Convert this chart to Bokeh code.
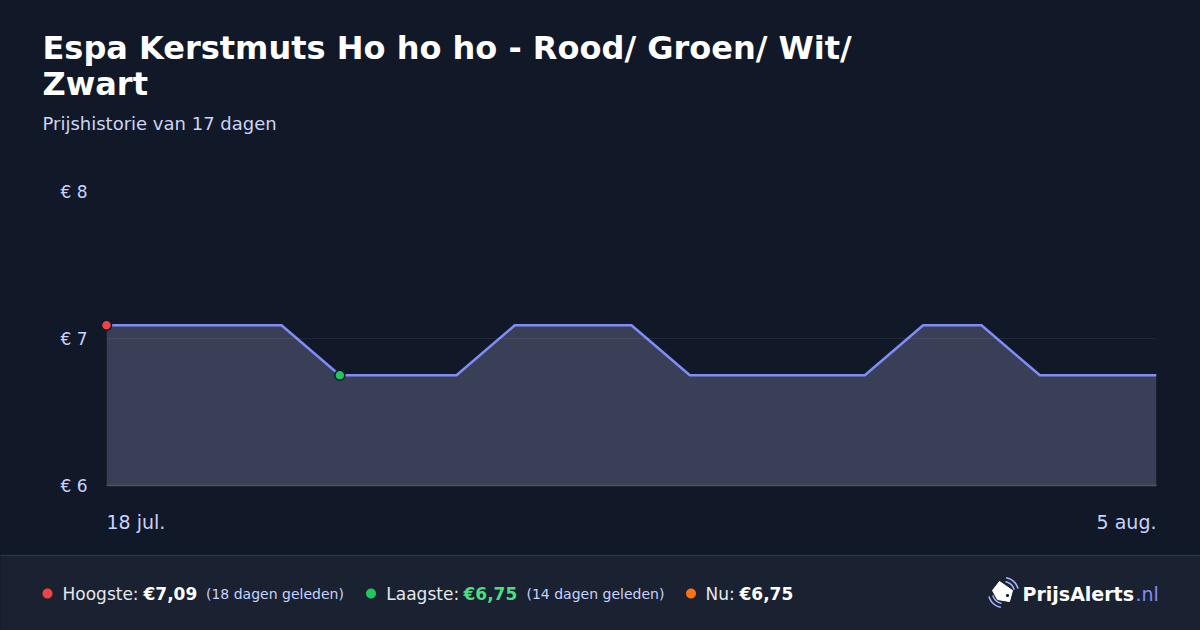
import numpy as np
from bokeh.plotting import figure
from bokeh.models import Range1d, FixedTicker
from bokeh.embed import file_html
from bokeh.resources import INLINE
from bokeh.core.properties import value

# ---------------- data ----------------
title_lines = ["Espa Kerstmuts Ho ho ho - Rood/ Groen/ Wit/", "Zwart"]
subtitle = "Prijshistorie van 17 dagen"
dates = ["18 jul.", "19 jul.", "20 jul.", "21 jul.", "22 jul.", "23 jul.", "24 jul.",
         "25 jul.", "26 jul.", "27 jul.", "28 jul.", "29 jul.", "30 jul.", "31 jul.",
         "1 aug.", "2 aug.", "3 aug.", "4 aug.", "5 aug."]
day_index = list(range(len(dates)))
prices = [7.09, 7.09, 7.09, 7.09, 6.75, 6.75, 6.75, 7.09, 7.09, 7.09,
          6.75, 6.75, 6.75, 6.75, 7.09, 7.09, 6.75, 6.75, 6.75]
y_ticks = [6, 7, 8]
y_tick_labels = ["€ 6", "€ 7", "€ 8"]
x_label_days = [0, len(dates) - 1]

# ---------------- style ----------------
FONT = "DejaVu Sans"
BG = "#111827"
FOOT_BG = "#1a2131"
LINE = "#818cf8"
FILL = "#3a3f58"
LBL = "#c7d2fe"
RED = "#ef4444"
GREEN = "#22c55e"
ORANGE = "#f97316"
W, H = 1200, 630
FL, FR, FT, FB = 106, 1156, 191, 485   # frame edges on the canvas


def euro(v):
    return "€" + f"{v:.2f}".replace(".", ",")


def disc(cx, cy, rad, n=40):
    th = np.linspace(0, 2 * np.pi, n, endpoint=False)
    return list(cx + rad * np.cos(th)), list(cy + rad * np.sin(th))


p = figure(width=W, height=H, x_range=Range1d(day_index[0], day_index[-1]),
           y_range=Range1d(y_ticks[0], y_ticks[-1]),
           output_backend="svg", toolbar_location=None,
           min_border_left=FL, min_border_right=W - FR, min_border_top=FT, min_border_bottom=H - FB)
p.background_fill_color = BG
p.border_fill_color = BG
p.outline_line_color = None
# canvas-pixel ranges for the page texts around the chart
p.extra_x_ranges = {"px": Range1d(FL, FR)}
p.extra_y_ranges = {"py": Range1d(FB, FT)}
PX = dict(x_range_name="px", y_range_name="py")

p.yaxis.ticker = FixedTicker(ticks=y_ticks)
p.yaxis.major_label_overrides = {t: l for t, l in zip(y_ticks, y_tick_labels)}
p.yaxis.axis_line_color = None
p.yaxis.major_tick_line_color = None
p.yaxis.minor_tick_line_color = None
p.yaxis.major_tick_out = 0
p.yaxis.major_tick_in = 0
p.yaxis.major_label_standoff = 19
p.yaxis.major_label_text_font = FONT
p.yaxis.major_label_text_font_size = "17px"
p.yaxis.major_label_text_color = LBL

p.xaxis.ticker = FixedTicker(ticks=[])
p.xaxis.major_tick_line_color = None
p.xaxis.minor_tick_line_color = None
p.xaxis.major_label_text_font_size = "0px"
p.xaxis.axis_line_color = "#4b5563"
p.xaxis.axis_line_width = 1.5

p.xgrid.visible = False
p.ygrid.grid_line_color = "#ffffff"
p.ygrid.grid_line_alpha = 0.07
p.ygrid.level = "overlay"

p.varea(x=day_index, y1=y_ticks[0], y2=prices, fill_color=FILL)
p.line(day_index, prices, line_color=LINE, line_width=2.5)

i_max = prices.index(max(prices))
i_min = prices.index(min(prices))
pts = p.scatter(x=[day_index[i_max], day_index[i_min]], y=[prices[i_max], prices[i_min]],
                size=10, fill_color=[RED, GREEN], line_color=BG, line_width=1.5)
pts.level = "overlay"

# x labels (first and last day)
for d, align in zip(x_label_days, ["left", "right"]):
    r = p.text(x=[day_index[d]], y=[y_ticks[0]], text=[dates[d]], y_offset=36,
               text_align=align, text_baseline="middle", text_font=value(FONT),
               text_font_size="19px", text_color=LBL)
    r.level = "overlay"

# ---------------- header ----------------
r = p.text(x=[42, 42], y=[47, 83], text=title_lines, text_font=value(FONT),
           text_font_style="bold", text_font_size="32px", text_color="#ffffff",
           text_baseline="middle", **PX)
r.level = "overlay"
r = p.text(x=[42], y=[123], text=[subtitle], text_font=value(FONT),
           text_font_size="18px", text_color="#cbd5f5", text_baseline="middle", **PX)
r.level = "overlay"

# ---------------- footer ----------------
r = p.quad(left=[0], right=[W], top=[555], bottom=[H], fill_color=FOOT_BG, line_color=None, **PX)
r.level = "overlay"
r = p.segment(x0=[0], x1=[W], y0=[555], y1=[555], line_color="#2a3352", line_width=1.5, **PX)
r.level = "overlay"

cy = 593
for cx, col in zip((47, 370.5, 690.5), (RED, GREEN, ORANGE)):
    dx, dy = disc(cx, cy, 5)
    r = p.patch(dx, dy, fill_color=col, line_color=None, **PX)
    r.level = "overlay"

last = len(prices) - 1
pieces = [
    (62, "Hoogste:", "normal", "17px", "#e5e7eb"),
    (143, euro(max(prices)), "bold", "17px", "#ffffff"),
    (205.5, f"({last - i_max} dagen geleden)", "normal", "14px", LBL),
    (385.8, "Laagste:", "normal", "17px", "#e5e7eb"),
    (463, euro(min(prices)), "bold", "17px", "#4ade80"),
    (526, f"({last - i_min} dagen geleden)", "normal", "14px", LBL),
    (705, "Nu:", "normal", "17px", "#e5e7eb"),
    (739, euro(prices[-1]), "bold", "17px", "#ffffff"),
    (1022, "PrijsAlerts", "bold", "19px", "#ffffff"),
    (1135, ".nl", "normal", "19px", LINE),
]
for x, t, style, size, color in pieces:
    r = p.text(x=[x], y=[cy], text=[t], text_font=value(FONT), text_font_style=style,
               text_font_size=size, text_color=color, text_baseline="middle", **PX)
    r.level = "overlay"

# logo icon: tag + signal arcs
icx, icy = 1003, 592
tag_x = [icx - 11, icx - 4, icx + 9, icx + 6, icx - 6]
tag_y = [icy - 2, icy - 11, icy - 2, icy + 9, icy + 7]
r = p.patch(tag_x, tag_y, fill_color="#ffffff", line_color="#ffffff", line_width=1,
            line_join="round", **PX)
r.level = "overlay"
hx, hy = disc(icx + 4, icy + 3, 1.6, 16)
r = p.patch(hx, hy, fill_color=FOOT_BG, line_color=None, **PX)
r.level = "overlay"
for rad in (11, 15):
    for a0, a1 in ((15, 80), (195, 260)):
        th = np.radians(np.linspace(a0, a1, 20))
        r = p.line(icx + rad * np.cos(th), icy - rad * np.sin(th), line_color="#a5b4fc",
                   line_width=1.6, **PX)
        r.level = "overlay"

html = file_html(p, INLINE)
html = html.replace("<head>", "<head><style>html,body{margin:0;padding:0;background:#111827;overflow:hidden}</style>", 1)
open("out.html", "w").write(html)
